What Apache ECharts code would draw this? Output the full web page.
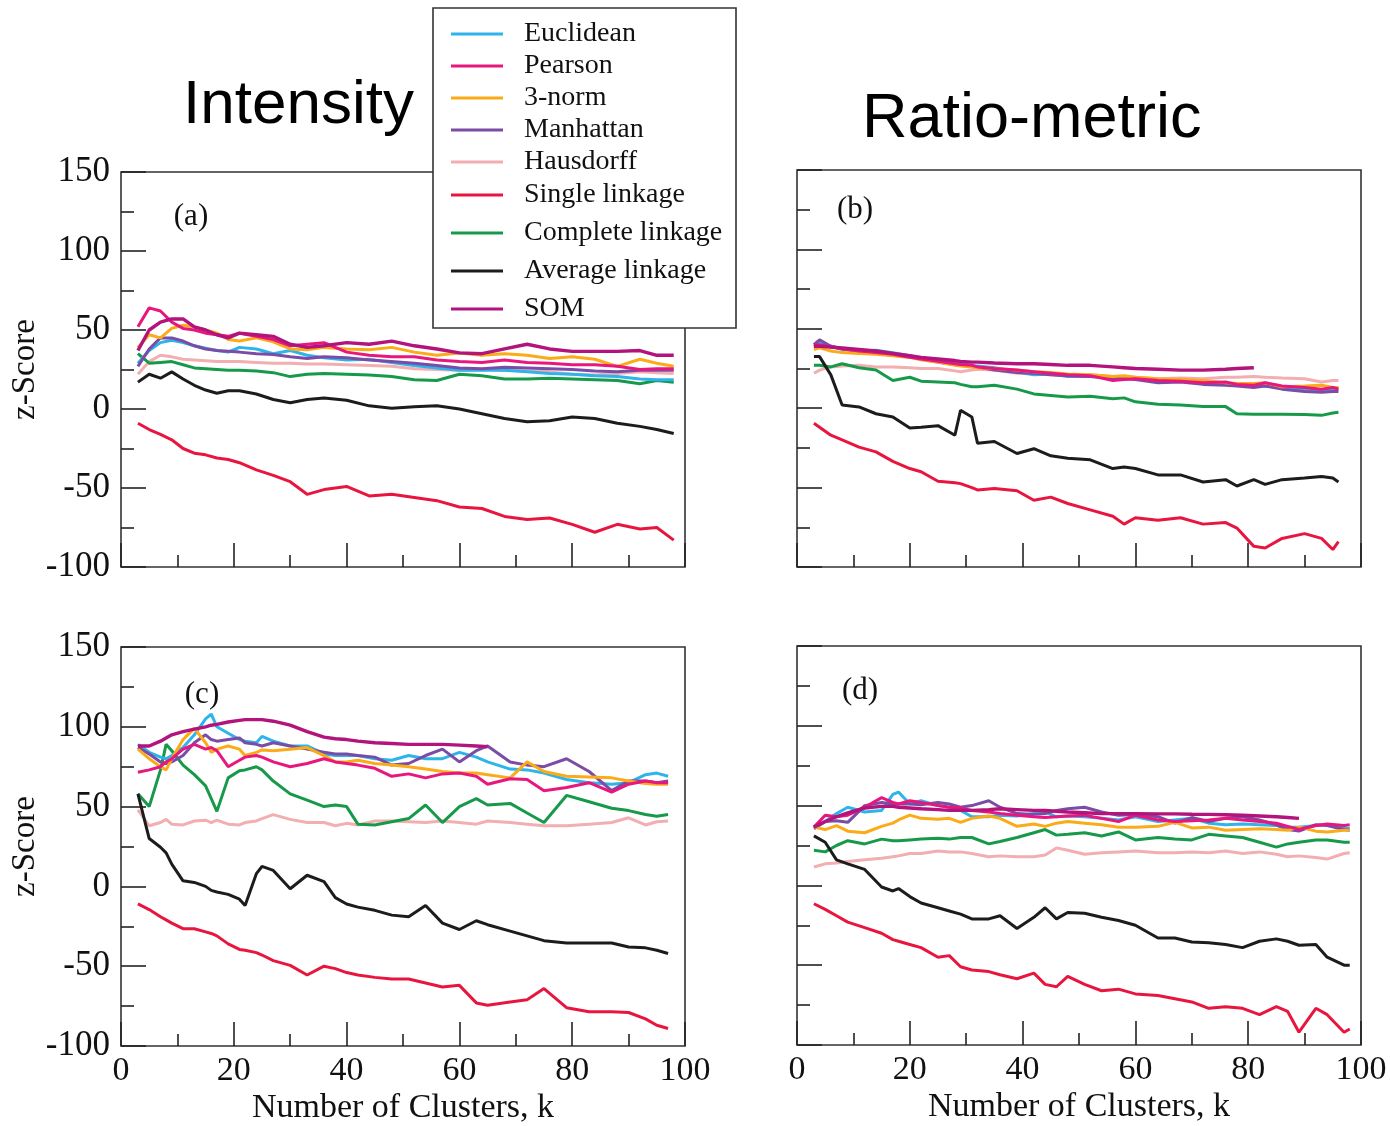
<!DOCTYPE html>
<html><head><meta charset="utf-8">
<script src="https://cdn.jsdelivr.net/npm/echarts@6/dist/echarts.min.js"></script>
<style>html,body{margin:0;padding:0;background:#fff}#c{width:1390px;height:1126px}</style>
</head><body><div id="c"></div>
<script>
// ---------- data ----------
const names = ['Euclidean','Pearson','3-norm','Manhattan','Hausdorff','Single linkage','Complete linkage','Average linkage','SOM'];
const xTicks = [0,20,40,60,80,100];
const yTicks = [-100,-50,0,50,100,150];

// Panel (a) Intensity
const Ka = [3,5,7,9,11,13,15,17,19,21,24,27,30,33,36,40,44,48,52,56,60,64,68,72,76,80,84,88,92,95,98];
const a_euclid  = [29,37,42,43.5,42,40,38.5,37,36,39,38,35,37,34,32.5,31,31.5,29.5,27.5,26,24.5,24.5,24.5,23.5,22.5,22,21,20.5,19,18.5,18.5];
const a_pearson = [52,64,62,55,51,50,48,47,46,48,46,44,40,41,42,36,34,33,33,31,30,29.5,31,29.5,29,28,28,27,25,25.5,25.5];
const a_norm3   = [39,47,45,51,53,52,50,48,44,43,45,42.5,38,37.5,39,38,37.5,39,36,34,35.5,34,35,34,32,33,31.5,27,31.5,29,27];
const a_manh    = [27,38,45,45,43,40,38,37,36.5,36,35,34.5,33,32,33,32.5,31,30,29,27.5,26,25.5,26.5,26,25.5,25,24,23.5,24.5,24.5,24.5];
const a_haus    = [22,30,34,33,31.5,31,30.5,30,30,30,29.5,29,29,28.5,28.5,28,27.5,27,25.5,25,24.5,25,24.5,24,23.5,22,21.5,22.5,23.5,23,22.5];
const a_single  = [-9,-13,-16,-19.5,-25,-28,-29,-31,-32,-34,-38.5,-42,-46,-54,-51,-49,-55,-54,-56,-58,-62,-63,-68,-70,-69,-73,-78,-73,-76,-75,-83];
const a_complete= [35,29,29.5,30,28,26,25.5,25,24.5,24.5,24,23,20.5,22,22.5,22,21.5,20.5,18.5,18,22,21,19,19,19.5,19,18.5,18,16,18,17];
const a_average = [17,22,19.5,23.5,19,15,12,10,11.5,11.5,9.5,6,4,6,7,5.5,2,0.5,1.5,2,0,-3,-6,-8,-7.5,-5,-6,-9,-11,-13,-15.5];
const a_som     = [37,50,55,57,57,52,50,47,45,48,47,46,41,39,40,42,41,43,40,38,35.5,35,38,41,38,36.5,36.5,36.5,37,34,34];

// Panel (b) Ratio-metric
const Kb = [3,4,6,8,11,14,17,20,22,25,28,29,31,32,35,39,42,45,48,52,56,58,60,64,68,72,76,78,81,83,86,90,93,95,96];
const b_euclid  = [39,41,39,37,36,36.5,35,33,31.5,30,28.5,28,27,26.5,25.5,23,21,21.5,20,20,19,18.5,19,17,17,16,15.5,14.5,15,14,13,12,11,12,12];
const b_pearson = [40,40,38.5,37.5,36,35,34,32,31,29.5,28,27.5,27,26,25,24,23,22,21,20.5,17.5,18,18.5,17.5,17,16,16.5,15,14.5,16,14,13,12,13,12];
const b_norm3   = [37,38,36,35,34.5,34,33,32,30.5,29,27,26.5,26,25.5,25,24,23,22.5,21.5,21,20,20.5,19.5,18.5,18,17.5,16,15.5,15.5,16,13.5,14,14.5,13,13];
const b_manh    = [40,43,39,37.5,36,35,34,32.5,31,29,27.5,27,26.5,26,24,22.5,22,21,20.5,20,19,18.5,18,16,16.5,15,14.5,14,13,14,12,10.5,10,10.5,10.5];
const b_haus    = [22,24,26,26.5,27,26,26,25.5,25,25,23.5,23,24,24.5,24,22,21.5,21,20.5,21,20,19.5,19.5,18.5,19,18.5,19.5,19.5,20,19.5,19,18.5,16.5,17.5,17.5];
const b_single  = [-9.5,-12,-17,-20,-24.5,-27.5,-33.5,-38,-40,-46,-47,-47.5,-50,-51.5,-50.5,-52,-58,-56,-60,-64,-68,-73,-69,-70.5,-69,-73,-72,-75.5,-87,-88,-82,-79,-82,-89,-84];
const b_complete= [27,27,26,28,25.5,24,17.5,19.5,17,16.5,16,15,13.5,13.5,14.5,12,9,8,7,7.5,6,6.5,4,2.5,2,1,1,-3.5,-3.8,-3.8,-3.8,-4,-4.5,-3,-2.5];
const b_average = [32.5,32.5,21,2,0.8,-3.5,-5.5,-12.5,-12,-11,-17,-1.3,-5.5,-22,-21,-28.5,-25.5,-30,-31.5,-32.5,-38,-37,-38,-42,-42,-46.5,-45,-49,-45,-48,-45,-44,-43,-44,-46.5];
const b_som     = [39,39,38.5,38,37,36,34.5,33,32,31,30,29.5,29,29,28.5,28,28,27.5,27,27,26,25.5,25,24.5,24,24,24.5,25,25.5,null,null,null,null,null,null];

// Panel (c) Intensity
const Kc = [3,5,7,8,9,11,13,15,16,17,19,21,22,24,25,27,30,33,36,38,40,42,45,48,51,54,57,60,63,65,69,72,75,79,83,87,90,93,95,97];
const c_euclid  = [89,84,81,80,82,87,95,105,108,100,96,92,91,90,94,91,88,88,83,82,82,82,80,79,82,80,80,84,81,78,73.5,73,71,67,65,64,65,70,71,69];
const c_pearson = [71.5,73,75,78,80,86,89,86,87,85,75,79,81,82,81,78,75,77,80,78,77,76,74,69,70.5,68,70.5,71,69,64,67.5,67,60,62,65,59,64,66,65,65];
const c_norm3   = [86,80,75,73,80,92,99,90,84,86,88,86,82,84,85.5,85,86,87,82,78,78,79,77,76,75,73.5,72,71,71,70,68,78,72,69,68.5,68,66,64.5,64,64];
const c_manh    = [87,83,78,77,78,82,90,95,92,91,92,93,90,89,88,90,88,86,84,83,83,82,81,76,77,82,86,78,85,88,78,76,75,80,72,60,66,66,65,66];
const c_haus    = [48,38,40,42,39,38.5,41,41.5,40,41.5,39,38.5,40,41,42.5,45,42,40,40,38,39.5,38.5,41,41,40.5,40,41,40,39,41,40,39,38,38,39,40,43,38.5,40.5,41];
const c_single  = [-11,-14.5,-19,-21,-23,-26.5,-26.5,-28.5,-29.5,-31,-36,-39.5,-40,-41.5,-43,-46.5,-49.5,-55.5,-50,-51.5,-54,-55.5,-57,-58,-58,-60.5,-63,-62,-73,-74.5,-72.5,-71,-64,-76,-78.5,-78.5,-79,-83,-87,-89];
const c_complete= [58,50,73,89,85,76,70,63,55,47,68,72.5,73,75,73,66,58,54,50,51,50,39,38.5,40.5,42.5,51,40,50,55,51,52,46,40,57,53,49,47.5,45,44,45];
const c_average = [58,30,24.5,21,14,3.5,2.5,0,-2.5,-3.5,-5,-8,-12,8,12.5,10,-1.5,7,3,-7,-11,-13,-15,-18,-19,-12,-23,-27,-21.5,-24,-28,-31,-34,-35.5,-35.5,-35.5,-38,-38.5,-40,-42];
const c_som     = [88,88,91,93,95,97,98.5,100,101,101.5,103,104,104.5,104.5,104.5,103.5,101,97,93.5,92.5,92,91,90,89.5,89,89,89,88.5,88,87.5,null,null,null,null,null,null,null,null,null,null];

// Panel (d) Ratio-metric
const Kd = [3,5,7,9,12,15,17,18,20,22,25,27,29,31,34,36,39,42,44,46,48,51,54,57,60,64,67,70,73,76,79,82,85,87,89,92,94,97,98];
const d_euclid  = [36.5,40,45,49,46,47,57,58.5,51,53,50,49,47,43,43,44,43.5,45,46,43,43.5,43,42,41,43,40,41,42,39,38,38.5,38,37.5,36.5,36.5,37.5,38,36,35.5];
const d_pearson = [36.5,44,43,44,49,55,52,51,53,52,50,49,48.5,47,46,45,44,43,42.5,43,43.5,44,42,40,44,41,40,40.5,41,42,41,40,39,37,35,37.5,38.5,37.5,38];
const d_norm3   = [36.5,35,37.5,34,33,37,39,41,44,42,41.5,42,39.5,42,43.5,42,37,38.5,37,39,40,39,38,36.5,36.5,37,39.5,36,36.5,34.5,35,35.5,35,34.5,36.5,34,33.5,34.5,34.5];
const d_manh    = [35.5,40,40.5,39.5,50,52,51,51,51,50.5,52,51,49,50,53,49,45,44.5,45,47,48,49,46,44,44.5,43,39,42.5,40,42,43,41,38,35,34,38,37.5,35,34.5];
const d_haus    = [11.5,13.5,14,15,16,17,18,18.5,20,20,21.5,21,21,20,18,18.5,18,18,19,23.5,22,19.5,20.5,21,21.5,20.5,20.5,21,20.5,21.5,20,21,19.5,18,18.5,17.5,16.5,20,20.5];
const d_single  = [-11.5,-15,-19,-23,-26.5,-30,-34,-35,-37,-39,-45,-44,-51,-53,-54,-56,-58.5,-55,-62,-63.5,-57,-62,-66,-65,-68,-69,-71,-73,-77,-76,-77,-81,-76,-79,-92,-77,-81,-92,-90];
const d_complete= [22,21,25,28,26,29,28,28,28.5,29,29.5,29,30,30,26,27.5,30,33,35,31.5,32,33,31,33.5,28.5,30,29,28.5,32,31,30,27,24,26,27,28.5,28.5,27,27];
const d_average = [31,27,16,13.5,10,-1,-3.5,-2,-7,-11,-14,-16,-18,-21,-21,-19,-27,-20,-14,-21,-17,-17.5,-20,-22,-25,-33,-33,-35.5,-36,-37,-39,-35,-33.5,-35,-37.5,-37,-45,-50,-50];
const d_som     = [36.5,40,43,45.5,48.5,49.5,49.5,49,48.5,48,47.5,47,47,47,47.5,48,47.5,47,47,46.5,46,45.5,45,45,45,44.8,44.8,44.6,44.5,44.3,44,43.5,43,42.5,42,null,null,null,null];

// ---------- styling ----------
const colorOf = {
  'Euclidean':'#2db4ea','Pearson':'#e8177e','3-norm':'#fbab18','Manhattan':'#7a4ca6',
  'Hausdorff':'#f2aeb0','Single linkage':'#e8163f','Complete linkage':'#17994a',
  'Average linkage':'#1c1c1c','SOM':'#b3137c'
};
const SERIF = "'Liberation Serif','Times New Roman',serif";
const SANS = "'Liberation Sans',Arial,sans-serif";

const panels = [
  {K:Ka, v:{'Euclidean':a_euclid,'Pearson':a_pearson,'3-norm':a_norm3,'Manhattan':a_manh,'Hausdorff':a_haus,'Single linkage':a_single,'Complete linkage':a_complete,'Average linkage':a_average,'SOM':a_som}},
  {K:Kb, v:{'Euclidean':b_euclid,'Pearson':b_pearson,'3-norm':b_norm3,'Manhattan':b_manh,'Hausdorff':b_haus,'Single linkage':b_single,'Complete linkage':b_complete,'Average linkage':b_average,'SOM':b_som}},
  {K:Kc, v:{'Euclidean':c_euclid,'Pearson':c_pearson,'3-norm':c_norm3,'Manhattan':c_manh,'Hausdorff':c_haus,'Single linkage':c_single,'Complete linkage':c_complete,'Average linkage':c_average,'SOM':c_som}},
  {K:Kd, v:{'Euclidean':d_euclid,'Pearson':d_pearson,'3-norm':d_norm3,'Manhattan':d_manh,'Hausdorff':d_haus,'Single linkage':d_single,'Complete linkage':d_complete,'Average linkage':d_average,'SOM':d_som}}
];
const grids = [
  {left:121, top:172, width:564, height:395},
  {left:797, top:170, width:564, height:397},
  {left:121, top:647, width:564, height:399},
  {left:797, top:646, width:564, height:399}
];
const drawOrder = ['Hausdorff','Complete linkage','Average linkage','Single linkage','Euclidean','Manhattan','3-norm','Pearson','SOM'];

const series = [];
panels.forEach((p, gi) => {
  drawOrder.forEach(name => {
    const vals = p.v[name];
    const data = p.K.map((k,i)=>[k, vals[i]]).filter(d => d[1] !== null);
    series.push({
      name, type:'line', xAxisIndex:gi, yAxisIndex:gi, data,
      symbol:'none', showSymbol:false, smooth:false,
      lineStyle:{color:colorOf[name], width: name==='SOM' ? 3.4 : 3},
      itemStyle:{color:colorOf[name]},
      emphasis:{disabled:true}, animation:false
    });
  });
});

const tickStyle = {color:'#222', width:1.6};
const xAxes = grids.map((g, i) => ({
  type:'value', gridIndex:i, position:'bottom', min:xTicks[0], max:xTicks[xTicks.length-1], interval:xTicks[1]-xTicks[0],
  axisLine:{show:false, onZero:false},
  axisTick:{show:true, inside:true, length:24, lineStyle:tickStyle},
  minorTick:{show:true, splitNumber:2, length:12, lineStyle:tickStyle},
  splitLine:{show:false}, minorSplitLine:{show:false},
  axisLabel:{show:i>=2, fontFamily:SERIF, fontSize:34, color:'#111', margin:8,
    formatter: v => xTicks.includes(v) ? String(v) : ''},
  name: i>=2 ? 'Number of Clusters, k' : '', nameLocation:'middle', nameGap:45,
  nameTextStyle:{fontFamily:SERIF, fontSize:34, color:'#111'}
}));
const yAxes = grids.map((g, i) => ({
  type:'value', gridIndex:i, position:'left', min:yTicks[0], max:yTicks[yTicks.length-1], interval:yTicks[1]-yTicks[0],
  axisLine:{show:false, onZero:false},
  axisTick:{show:true, inside:true, length:25, lineStyle:tickStyle},
  minorTick:{show:true, splitNumber:2, length:13, lineStyle:tickStyle},
  splitLine:{show:false}, minorSplitLine:{show:false},
  axisLabel:{show:(i%2)===0, fontFamily:SERIF, fontSize:35, color:'#111', margin:11},
  name: (i%2)===0 ? 'z-Score' : '', nameLocation:'middle', nameGap: i===0 ? 71 : 74,
  nameTextStyle:{fontFamily:SERIF, fontSize:33, color:'#111'}
}));

const legendText = {fontFamily:SERIF, fontSize:28, color:'#111', lineHeight:28, padding:[0,0,0,16]};
const chart = echarts.init(document.getElementById('c'), null, {renderer:'canvas'});
chart.setOption({
  backgroundColor:'#fff',
  animation:false,
  grid: grids.map(g => Object.assign({show:true, borderColor:'#333', borderWidth:1.6, backgroundColor:'transparent', containLabel:false, outerBoundsMode:'none'}, g)),
  xAxis: xAxes,
  yAxis: yAxes,
  legend: [
    {orient:'vertical', left:446, top:15, itemWidth:52, itemHeight:3, icon:'rect', itemGap:4,
     data:names.slice(0,5), selectedMode:false, z:20, textStyle:legendText},
    {orient:'vertical', left:446, top:176, itemWidth:52, itemHeight:3, icon:'rect', itemGap:10,
     data:names.slice(5), selectedMode:false, z:20, textStyle:legendText}
  ],
  graphic: [
    {type:'rect', z:10, shape:{x:433, y:8, width:303, height:320}, style:{fill:'#fff', stroke:'#333', lineWidth:1.6}},
    {type:'text', z:10, style:{x:183, y:106, text:'Intensity', font:'62px '+SANS, fill:'#000', textVerticalAlign:'middle'}},
    {type:'text', z:10, style:{x:862, y:120, text:'Ratio-metric', font:'63px '+SANS, fill:'#000', textVerticalAlign:'middle'}},
    {type:'text', z:10, style:{x:191, y:217, text:'(a)', font:'31px '+SERIF, fill:'#111', textAlign:'center', textVerticalAlign:'middle'}},
    {type:'text', z:10, style:{x:855, y:210, text:'(b)', font:'31px '+SERIF, fill:'#111', textAlign:'center', textVerticalAlign:'middle'}},
    {type:'text', z:10, style:{x:202, y:695, text:'(c)', font:'31px '+SERIF, fill:'#111', textAlign:'center', textVerticalAlign:'middle'}},
    {type:'text', z:10, style:{x:860, y:691, text:'(d)', font:'31px '+SERIF, fill:'#111', textAlign:'center', textVerticalAlign:'middle'}}
  ],
  series
});
</script></body></html>
